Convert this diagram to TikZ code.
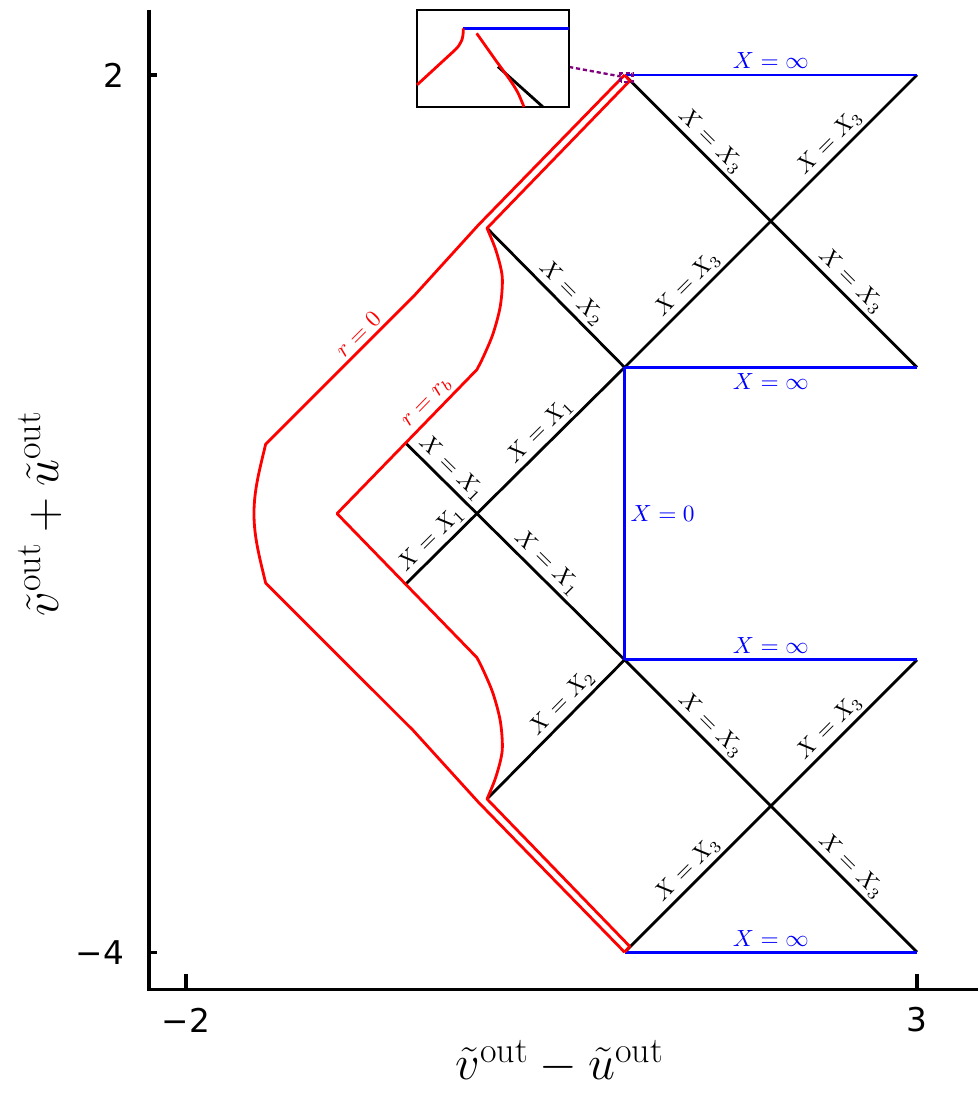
\documentclass[tikz,border=0pt]{standalone}
\usepackage{fontspec}
\newfontfamily\tickfont{DejaVu Sans}
\usepackage{xcolor}
\usepackage{tikz}
\usetikzlibrary{calc}
\definecolor{zoompurple}{RGB}{128,0,128}

\begin{document}
\begin{tikzpicture}[
    x=2.2cm, y=2.2cm,
    bnd/.style={blue, line width=1.2pt},
    ray/.style={black, line width=1.2pt},
    surf/.style={red, line width=1.2pt, line join=round},
    axisline/.style={black, line width=1.3pt},
    onray/.style={sloped, above, inner sep=1.5pt},
    onbnd/.style={text=blue, inner sep=2pt},
    onsurf/.style={text=red, sloped, above, inner sep=1.5pt},
    ticklbl/.style={font=\tickfont\fontsize{14}{17}\selectfont, inner sep=0pt},
    axislbl/.style={font=\fontsize{22}{26}\selectfont}
]
\useasboundingbox (-3.2722,-4.9767) rectangle (3.4172,2.513);

% Corners
\coordinate (t1) at (1,2);
\coordinate (t2) at (3,2);
\coordinate (m1) at (1,0);
\coordinate (m2) at (3,0);
\coordinate (b1) at (1,-2);
\coordinate (b2) at (3,-2);
\coordinate (z1) at (1,-4);
\coordinate (z2) at (3,-4);
\coordinate (ktop) at (0.059,0.952);
\coordinate (kbot) at (0.059,-2.952);
\coordinate (p1) at (-0.5,-0.515);
\coordinate (p2) at (-0.5,-1.485);

% Axes
\draw[axisline] (-2.253,2.445) -- (-2.253,-4.252) -- (3.4172,-4.252);
\draw[axisline] (-2,-4.252) -- (-2,-4.15);
\draw[axisline] (3,-4.252) -- (3,-4.15);
\draw[axisline] (-2.253,2) -- (-2.198,2);
\draw[axisline] (-2.253,-4) -- (-2.198,-4);
\node[ticklbl] (tx1) at (-2,-4.464) {−2};
\node[ticklbl] (tx2) at (3,-4.464) {3};
\node[ticklbl, anchor=east] (ty1) at (-2.42,2) {2};
\node[ticklbl, anchor=east] (ty2) at (-2.42,-4) {−4};
\node[axislbl] (xlab) at (0.558,-4.75) {$\tilde v^{\mathrm{out}} - \tilde u^{\mathrm{out}}$};
\node[axislbl, rotate=90] (ylab) at (-3.0,-1.0) {$\tilde v^{\mathrm{out}} + \tilde u^{\mathrm{out}}$};

% Null rays
\draw[ray] (t1) -- node[onray, pos=0.26] (n1) {$X=X_3$} node[onray, pos=0.74] (n2) {$X=X_3$} (m2);
\draw[ray] (m1) -- node[onray, pos=0.25] (n3) {$X=X_3$} node[onray, pos=0.735] (n4) {$X=X_3$} (t2);
\draw[ray] (b1) -- node[onray, pos=0.26] (n5) {$X=X_3$} node[onray, pos=0.74] (n6) {$X=X_3$} (z2);
\draw[ray] (z1) -- node[onray, pos=0.25] (n7) {$X=X_3$} node[onray, pos=0.735] (n8) {$X=X_3$} (b2);
\draw[ray] (ktop) -- node[onray, pos=0.54] (n9) {$X=X_2$} (m1);
\draw[ray] (kbot) -- node[onray, pos=0.62] (n10) {$X=X_2$} (b1);
\draw[ray] (p2) -- node[onray, pos=0.163] (n11) {$X=X_1$} node[onray, pos=0.66] (n12) {$X=X_1$} (m1);
\draw[ray] (p1) -- node[onray, pos=0.165] (n13) {$X=X_1$} node[onray, pos=0.6] (n14) {$X=X_1$} (b1);

% Boundaries
\draw[bnd] (t1) -- node[onbnd, above] (inf1) {$X=\infty$} (t2);
\draw[bnd] (m1) -- node[onbnd, below] (inf2) {$X=\infty$} (m2);
\draw[bnd] (b1) -- node[onbnd, above] (inf3) {$X=\infty$} (b2);
\draw[bnd] (z1) -- node[onbnd, above] (inf4) {$X=\infty$} (z2);
\draw[bnd] (m1) -- node[onbnd, right] (zero) {$X=0$} (b1);

% Surfaces
\draw[surf] (t1) -- (0,0.974) -- (-0.445,0.484) -- node[onsurf, pos=0.316] (r0) {$r=0$} (-1.455,-0.525)
    .. controls (-1.497,-0.70) and (-1.535,-0.84) .. (-1.535,-1)
    .. controls (-1.535,-1.16) and (-1.497,-1.30) .. (-1.455,-1.475)
    -- (-0.445,-2.484) -- (0,-2.974) -- (z1);
\draw[surf] (t1) -- (1.035,1.96) -- (ktop)
    -- plot[smooth] coordinates {(0.059,0.952) (0.12,0.80) (0.163,0.62) (0.15,0.42) (0.10,0.23) (0.035,0.075) (-0.01,-0.015)}
    -- node[onsurf, pos=0.29] (rb) {$r=r_b$} (-0.967,-1) -- (-0.01,-1.985)
    -- plot[smooth] coordinates {(-0.01,-1.985) (0.035,-2.075) (0.10,-2.23) (0.15,-2.42) (0.163,-2.62) (0.12,-2.80) (0.059,-2.952)}
    -- (kbot) -- (1.035,-3.96) -- (z1);

% Inset
\coordinate (zsrc) at (0.620,2.055);
\coordinate (zdst) at (0.973,1.99);
\draw[zoompurple, line width=1pt, dash pattern=on 1.8pt off 1.2pt] (zsrc) -- (zdst);
\draw[zoompurple, line width=1pt, dash pattern=on 1.8pt off 1.2pt] (0.973,1.950) rectangle (1.055,2.012);
\draw[black, line width=1pt, fill=white] (-0.420,1.781) rectangle (0.620,2.445);
\draw[bnd] (-0.103,2.319) -- (0.620,2.319);
\draw[surf] (-0.420,1.932) -- (-0.160,2.171) .. controls (-0.115,2.215) and (-0.103,2.25) .. (-0.103,2.319);
\draw[ray] (0.134,2.057) -- (0.442,1.781);
\draw[surf] (-0.012,2.285) -- (0.125,2.091)
    -- plot[smooth] coordinates {(0.125,2.091) (0.216,1.966) (0.271,1.877) (0.312,1.781)};

\end{tikzpicture}
\end{document}
